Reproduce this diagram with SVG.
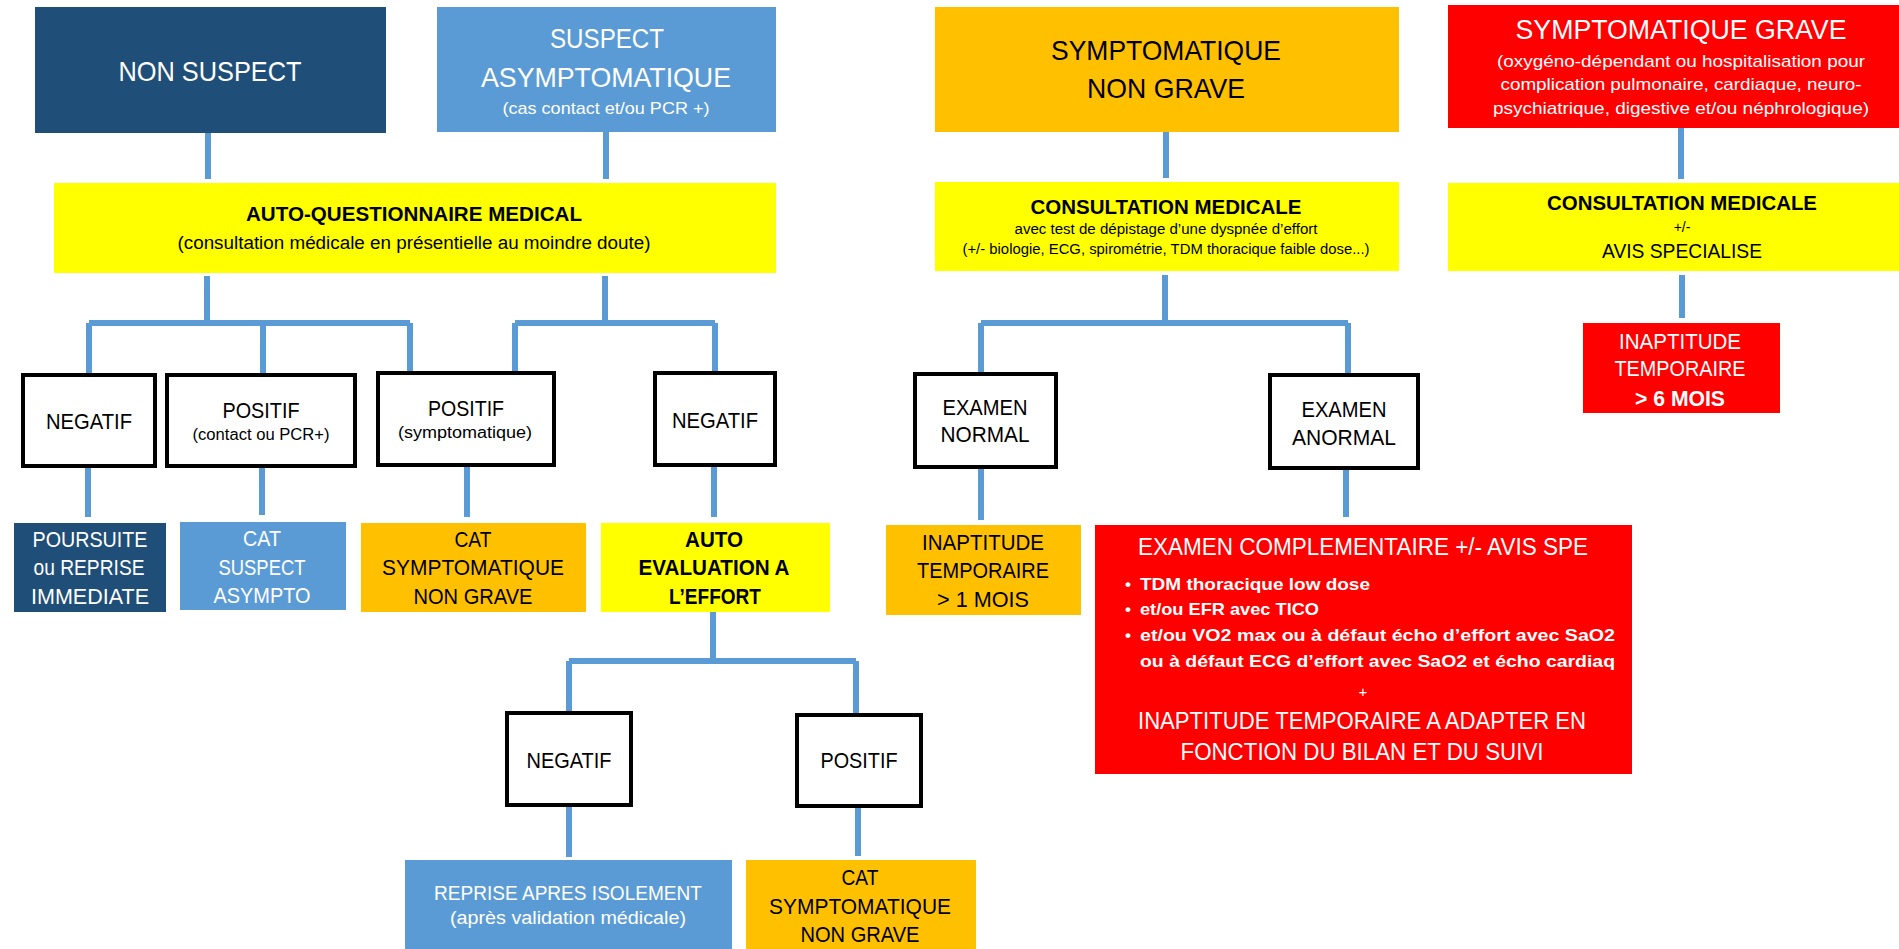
<svg xmlns="http://www.w3.org/2000/svg" width="1899" height="949" viewBox="0 0 1899 949">
<style>
text{font-family:"Liberation Sans",Arial,sans-serif;text-anchor:middle}
.w{fill:#fff}.k{fill:#000}.b{font-weight:bold}
.dk{fill:#1F4E79}.md{fill:#5B9BD5}.or{fill:#FFC000}.ye{fill:#FFFF00}.rd{fill:#FF0000}
.bx{fill:#fff;stroke:#000;stroke-width:4}
#connectors path{fill:none;stroke:#5B9BD5;stroke-width:6}
.l{text-anchor:start}
</style>
<rect width="1899" height="949" fill="#fff"/>
<g id="connectors">
<path d="M208 133V179M606 132V179"/>
<path d="M207 276V323M89 323H410M89 323V373M263 323V373M410 323V371"/>
<path d="M605 276V323M515 323H715M515 323V371M715 323V371"/>
<path d="M88 468V517M262 468V515M467 467V517M714 467V517"/>
<path d="M713 612V661M569 661H856M569 661V711M856 661V713"/>
<path d="M569 807V857M858 808V856"/>
<path d="M1166 132V178M1165 275V323M981 323H1348M981 323V372M1348 323V373M981 469V520M1346 470V517"/>
<path d="M1681 128V179M1682 275V318"/>
</g>
<g id="non-suspect"><rect class="dk" x="35" y="7" width="351" height="126"/><text class="w" x="210" y="81" font-size="28" textLength="183" lengthAdjust="spacingAndGlyphs">NON SUSPECT</text></g>
<g id="suspect-asympto"><rect class="md" x="437" y="7" width="339" height="125"/><text class="w" x="607" y="48" font-size="27" textLength="114" lengthAdjust="spacingAndGlyphs">SUSPECT</text><text class="w" x="606" y="87" font-size="28" textLength="250" lengthAdjust="spacingAndGlyphs">ASYMPTOMATIQUE</text><text class="w" x="606" y="114" font-size="17" textLength="207" lengthAdjust="spacingAndGlyphs">(cas contact et/ou PCR +)</text></g>
<g id="auto-questionnaire"><rect class="ye" x="54" y="183" width="722" height="90"/><text class="k b" x="414" y="221" font-size="20" textLength="336" lengthAdjust="spacingAndGlyphs">AUTO-QUESTIONNAIRE MEDICAL</text><text class="k" x="414" y="249" font-size="18" textLength="473" lengthAdjust="spacingAndGlyphs">(consultation médicale en présentielle au moindre doute)</text></g>
<g id="sympto-non-grave"><rect class="or" x="935" y="7" width="464" height="125"/><text class="k" x="1166" y="60" font-size="28" textLength="230" lengthAdjust="spacingAndGlyphs">SYMPTOMATIQUE</text><text class="k" x="1166" y="98" font-size="28" textLength="158" lengthAdjust="spacingAndGlyphs">NON GRAVE</text></g>
<g id="sympto-grave"><rect class="rd" x="1448" y="5" width="451" height="123"/><text class="w" x="1681" y="39" font-size="27" textLength="331" lengthAdjust="spacingAndGlyphs">SYMPTOMATIQUE GRAVE</text><text class="w" x="1681" y="67" font-size="17" textLength="368" lengthAdjust="spacingAndGlyphs">(oxygéno-dépendant ou hospitalisation pour</text><text class="w" x="1681" y="90" font-size="17" textLength="361" lengthAdjust="spacingAndGlyphs">complication pulmonaire, cardiaque, neuro-</text><text class="w" x="1681" y="114" font-size="17" textLength="376" lengthAdjust="spacingAndGlyphs">psychiatrique, digestive et/ou néphrologique)</text></g>
<g id="consultation-1"><rect class="ye" x="935" y="182" width="464" height="89"/><text class="k b" x="1166" y="214" font-size="20" textLength="271" lengthAdjust="spacingAndGlyphs">CONSULTATION MEDICALE</text><text class="k" x="1166" y="234" font-size="14" textLength="303" lengthAdjust="spacingAndGlyphs">avec test de dépistage d’une dyspnée d’effort</text><text class="k" x="1166" y="254" font-size="14" textLength="407" lengthAdjust="spacingAndGlyphs">(+/- biologie, ECG, spirométrie, TDM thoracique faible dose...)</text></g>
<g id="consultation-2"><rect class="ye" x="1448" y="183" width="451" height="88"/><text class="k b" x="1682" y="210" font-size="20" textLength="270" lengthAdjust="spacingAndGlyphs">CONSULTATION MEDICALE</text><text class="k" x="1682" y="232" font-size="14">+/-</text><text class="k" x="1682" y="258" font-size="21" textLength="160" lengthAdjust="spacingAndGlyphs">AVIS SPECIALISE</text></g>
<g id="negatif-1"><rect class="bx" x="23" y="375" width="132" height="91"/><text class="k" x="89" y="429" font-size="22" textLength="86" lengthAdjust="spacingAndGlyphs">NEGATIF</text></g>
<g id="positif-contact"><rect class="bx" x="167" y="375" width="188" height="91"/><text class="k" x="261" y="418" font-size="22" textLength="77" lengthAdjust="spacingAndGlyphs">POSITIF</text><text class="k" x="261" y="440" font-size="16" textLength="137" lengthAdjust="spacingAndGlyphs">(contact ou PCR+)</text></g>
<g id="positif-sympto"><rect class="bx" x="378" y="373" width="176" height="92"/><text class="k" x="466" y="416" font-size="22" textLength="76" lengthAdjust="spacingAndGlyphs">POSITIF</text><text class="k" x="465" y="438" font-size="16" textLength="134" lengthAdjust="spacingAndGlyphs">(symptomatique)</text></g>
<g id="negatif-2"><rect class="bx" x="655" y="373" width="120" height="92"/><text class="k" x="715" y="428" font-size="22" textLength="86" lengthAdjust="spacingAndGlyphs">NEGATIF</text></g>
<g id="poursuite"><rect class="dk" x="14" y="523" width="152" height="89"/><text class="w" x="90" y="547" font-size="22" textLength="115" lengthAdjust="spacingAndGlyphs">POURSUITE</text><text class="w" x="89" y="575" font-size="22" textLength="111" lengthAdjust="spacingAndGlyphs">ou REPRISE</text><text class="w" x="90" y="604" font-size="22" textLength="118" lengthAdjust="spacingAndGlyphs">IMMEDIATE</text></g>
<g id="cat-suspect"><rect class="md" x="180" y="522" width="166" height="88"/><text class="w" x="262" y="546" font-size="22" textLength="38" lengthAdjust="spacingAndGlyphs">CAT</text><text class="w" x="262" y="575" font-size="22" textLength="87" lengthAdjust="spacingAndGlyphs">SUSPECT</text><text class="w" x="262" y="603" font-size="22" textLength="97" lengthAdjust="spacingAndGlyphs">ASYMPTO</text></g>
<g id="cat-sympto-1"><rect class="or" x="361" y="523" width="225" height="89"/><text class="k" x="473" y="547" font-size="22" textLength="37" lengthAdjust="spacingAndGlyphs">CAT</text><text class="k" x="473" y="575" font-size="22" textLength="182" lengthAdjust="spacingAndGlyphs">SYMPTOMATIQUE</text><text class="k" x="473" y="604" font-size="22" textLength="119" lengthAdjust="spacingAndGlyphs">NON GRAVE</text></g>
<g id="auto-evaluation"><rect class="ye" x="601" y="523" width="229" height="89"/><text class="k b" x="714" y="547" font-size="22" textLength="58" lengthAdjust="spacingAndGlyphs">AUTO</text><text class="k b" x="714" y="575" font-size="22" textLength="151" lengthAdjust="spacingAndGlyphs">EVALUATION A</text><text class="k b" x="715" y="604" font-size="22" textLength="92" lengthAdjust="spacingAndGlyphs">L’EFFORT</text></g>
<g id="examen-normal"><rect class="bx" x="915" y="374" width="141" height="93"/><text class="k" x="985" y="415" font-size="22" textLength="85" lengthAdjust="spacingAndGlyphs">EXAMEN</text><text class="k" x="985" y="442" font-size="22" textLength="89" lengthAdjust="spacingAndGlyphs">NORMAL</text></g>
<g id="examen-anormal"><rect class="bx" x="1270" y="375" width="148" height="93"/><text class="k" x="1344" y="417" font-size="22" textLength="85" lengthAdjust="spacingAndGlyphs">EXAMEN</text><text class="k" x="1344" y="445" font-size="22" textLength="104" lengthAdjust="spacingAndGlyphs">ANORMAL</text></g>
<g id="inaptitude-6"><rect class="rd" x="1583" y="323" width="197" height="90"/><text class="w" x="1680" y="349" font-size="22" textLength="122" lengthAdjust="spacingAndGlyphs">INAPTITUDE</text><text class="w" x="1680" y="376" font-size="22" textLength="131" lengthAdjust="spacingAndGlyphs">TEMPORAIRE</text><text class="w b" x="1680" y="406" font-size="22" textLength="90" lengthAdjust="spacingAndGlyphs">&gt; 6 MOIS</text></g>
<g id="inaptitude-1"><rect class="or" x="886" y="525" width="195" height="90"/><text class="k" x="983" y="550" font-size="22" textLength="122" lengthAdjust="spacingAndGlyphs">INAPTITUDE</text><text class="k" x="983" y="578" font-size="22" textLength="132" lengthAdjust="spacingAndGlyphs">TEMPORAIRE</text><text class="k" x="983" y="607" font-size="22" textLength="92" lengthAdjust="spacingAndGlyphs">&gt; 1 MOIS</text></g>
<g id="examen-complementaire"><rect class="rd" x="1095" y="525" width="537" height="249"/>
<text class="w" x="1363" y="555" font-size="23" textLength="450" lengthAdjust="spacingAndGlyphs">EXAMEN COMPLEMENTAIRE +/- AVIS SPE</text>
<text class="w b" x="1128" y="590" font-size="17">•</text><text class="w b l" x="1140" y="590" font-size="17" textLength="230" lengthAdjust="spacingAndGlyphs">TDM thoracique low dose</text>
<text class="w b" x="1128" y="615" font-size="17">•</text><text class="w b l" x="1140" y="615" font-size="17" textLength="179" lengthAdjust="spacingAndGlyphs">et/ou EFR avec TlCO</text>
<text class="w b" x="1128" y="641" font-size="17">•</text><text class="w b l" x="1140" y="641" font-size="17" textLength="475" lengthAdjust="spacingAndGlyphs">et/ou VO2 max ou à défaut écho d’effort avec SaO2</text>
<text class="w b l" x="1140" y="667" font-size="17" textLength="475" lengthAdjust="spacingAndGlyphs">ou à défaut ECG d’effort avec SaO2 et écho cardiaq</text>
<text class="w" x="1363" y="697" font-size="15">+</text>
<text class="w" x="1362" y="729" font-size="23" textLength="448" lengthAdjust="spacingAndGlyphs">INAPTITUDE TEMPORAIRE A ADAPTER EN</text>
<text class="w" x="1362" y="760" font-size="23" textLength="363" lengthAdjust="spacingAndGlyphs">FONCTION DU BILAN ET DU SUIVI</text></g>
<g id="negatif-3"><rect class="bx" x="507" y="713" width="124" height="92"/><text class="k" x="569" y="768" font-size="22" textLength="85" lengthAdjust="spacingAndGlyphs">NEGATIF</text></g>
<g id="positif-3"><rect class="bx" x="797" y="715" width="124" height="91"/><text class="k" x="859" y="768" font-size="22" textLength="77" lengthAdjust="spacingAndGlyphs">POSITIF</text></g>
<g id="reprise"><rect class="md" x="405" y="860" width="327" height="89"/><text class="w" x="568" y="900" font-size="21" textLength="268" lengthAdjust="spacingAndGlyphs">REPRISE APRES ISOLEMENT</text><text class="w" x="568" y="924" font-size="18" textLength="236" lengthAdjust="spacingAndGlyphs">(après validation médicale)</text></g>
<g id="cat-sympto-2"><rect class="or" x="746" y="860" width="230" height="89"/><text class="k" x="860" y="885" font-size="22" textLength="37" lengthAdjust="spacingAndGlyphs">CAT</text><text class="k" x="860" y="914" font-size="22" textLength="182" lengthAdjust="spacingAndGlyphs">SYMPTOMATIQUE</text><text class="k" x="860" y="942" font-size="22" textLength="119" lengthAdjust="spacingAndGlyphs">NON GRAVE</text></g>
</svg>
